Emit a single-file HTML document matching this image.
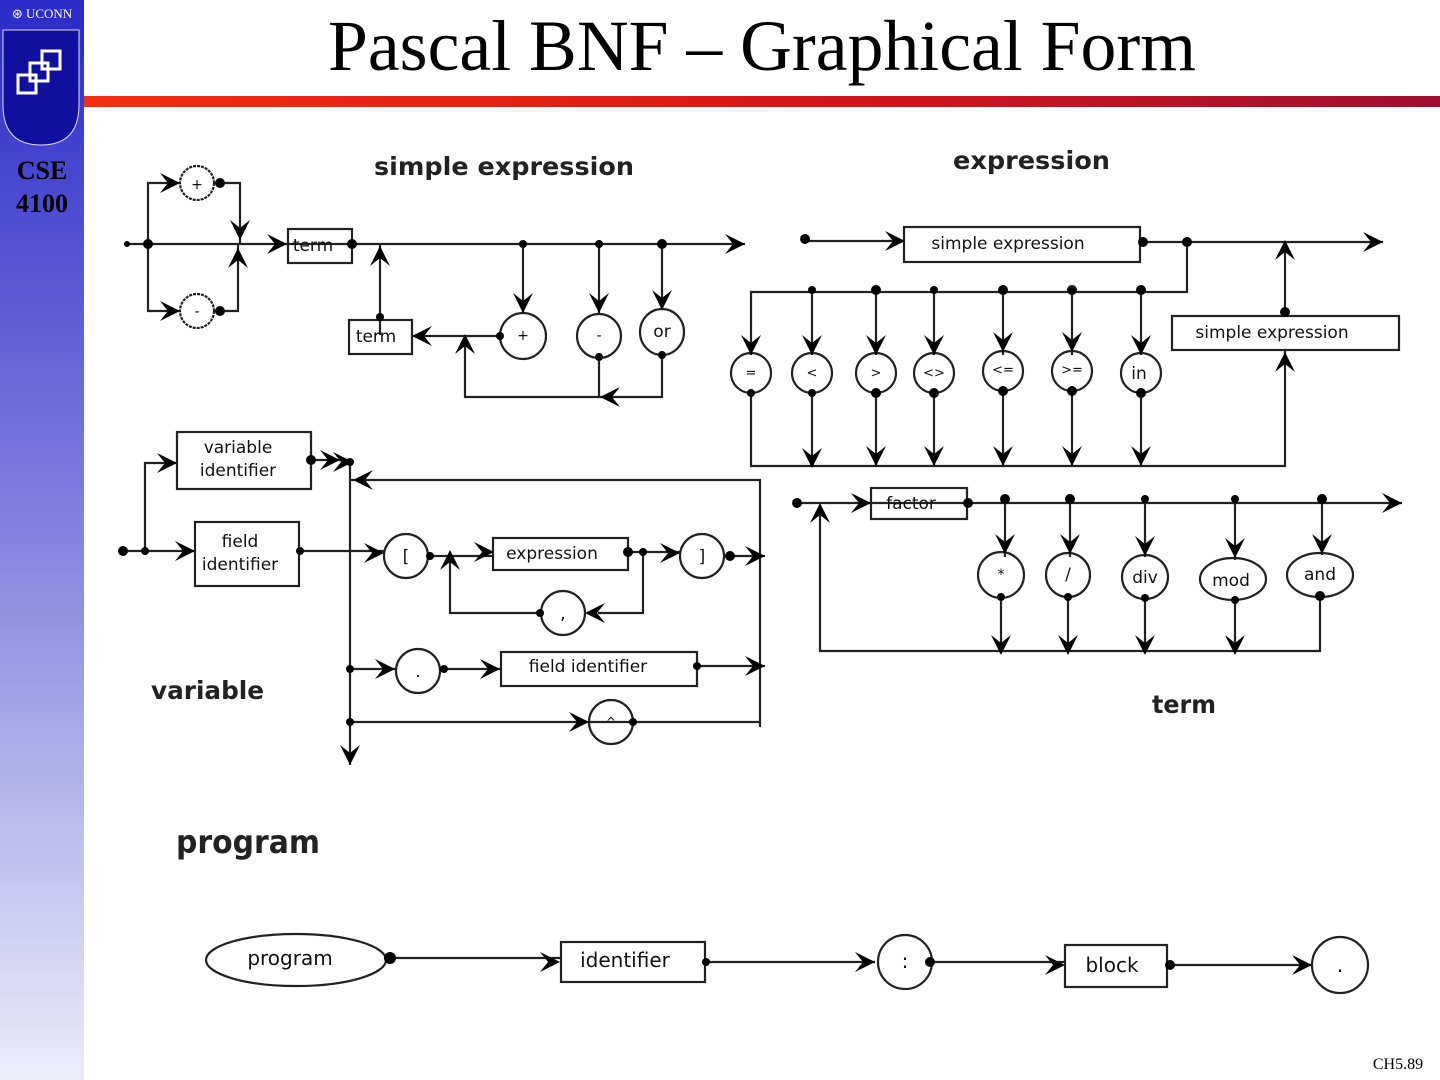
<!DOCTYPE html>
<html><head><meta charset="utf-8"><style>
html,body{margin:0;padding:0;width:1440px;height:1080px;overflow:hidden;background:#fff}
</style></head><body>
<svg width="1440" height="1080" viewBox="0 0 1440 1080" xmlns="http://www.w3.org/2000/svg" font-family="DejaVu Sans, Liberation Sans, sans-serif">
<defs>
<linearGradient id="sb" x1="0" y1="0" x2="0" y2="1">
<stop offset="0" stop-color="#2a2ac8"/><stop offset="0.5" stop-color="#8484e0"/><stop offset="1" stop-color="#ececf8"/></linearGradient>
<linearGradient id="rb" x1="0" y1="0" x2="1" y2="0">
<stop offset="0" stop-color="#f03010"/><stop offset="0.5" stop-color="#d81818"/><stop offset="1" stop-color="#a01030"/></linearGradient>
<polygon id="ar" points="-20,-10 0,0 -20,10 -12,0" fill="#000"/>
</defs>
<rect x="0" y="0" width="84" height="1080" fill="url(#sb)"/>
<text x="42" y="18" font-family="Liberation Serif,serif" font-size="13" fill="#fff" text-anchor="middle">⊛ UCONN</text>
<path d="M3,30 H79 V105 Q79,145 41,145 Q3,145 3,105 Z" fill="#1010a0" stroke="#dde" stroke-width="1"/>
<g fill="none" stroke="#fff" stroke-width="3"><rect x="18" y="75" width="18" height="18"/><rect x="30" y="63" width="18" height="18"/><rect x="42" y="51" width="18" height="18"/></g>
<text x="42" y="179" font-family="Liberation Serif,serif" font-weight="bold" font-size="26" text-anchor="middle">CSE</text>
<text x="42" y="212" font-family="Liberation Serif,serif" font-weight="bold" font-size="26" text-anchor="middle">4100</text>
<rect x="84" y="96" width="1356" height="11" fill="url(#rb)"/>
<text x="762" y="70" font-family="Liberation Serif,serif" font-size="72" text-anchor="middle" textLength="868" lengthAdjust="spacingAndGlyphs">Pascal BNF – Graphical Form</text>
<text x="1398" y="1069" font-family="Liberation Serif,serif" font-size="16" text-anchor="middle">CH5.89</text>

<g font-weight="bold" font-size="25" fill="#222">
<text x="374" y="175" textLength="260" lengthAdjust="spacingAndGlyphs">simple expression</text>
<text x="953" y="169" textLength="157" lengthAdjust="spacingAndGlyphs">expression</text>
<text x="151" y="699" textLength="113" lengthAdjust="spacingAndGlyphs">variable</text>
<text x="1152" y="713" textLength="64" lengthAdjust="spacingAndGlyphs">term</text>
<text x="176" y="853" font-size="32" textLength="144" lengthAdjust="spacingAndGlyphs">program</text>
</g>

<g fill="none" stroke="#222" stroke-width="2.2">
<path d="M127,244 H745 M148,244 V183 H180 M220,183 H240 V244 M148,244 V311 H180 M220,311 H238 V244"/>
<rect x="288" y="229" width="64" height="34"/>
<rect x="349" y="320" width="63" height="34"/>
<path d="M380,335 V244 M523,244 V313 M599,244 V313 M662,244 V310 M500,336 H412 M599,357 V397 M662,355 V397 H465 V336"/>
<circle cx="197" cy="183" r="17" stroke-dasharray="3 1"/>
<circle cx="197" cy="311" r="17" stroke-dasharray="3 1"/>
<circle cx="523" cy="336" r="23"/>
<circle cx="599" cy="336" r="22"/>
<ellipse cx="662" cy="332" rx="22" ry="23"/>
<path d="M805,241 H905 M1143,242 H1383 M1187,242 V292 H751 V355 M812,290 V355 M876,290 V355 M934,290 V355 M1003,290 V355 M1072,290 V355 M1141,290 V355"/>
<rect x="904" y="227" width="236" height="35"/>
<rect x="1172" y="316" width="227" height="34"/>
<path d="M751,393 V466 H1285 V350 M812,393 V466 M876,393 V466 M934,393 V466 M1003,393 V466 M1072,393 V466 M1141,393 V466 M1285,312 V242"/>
<circle cx="751" cy="373" r="20"/><circle cx="812" cy="373" r="20"/><circle cx="876" cy="373" r="20"/><circle cx="934" cy="373" r="20"/><circle cx="1003" cy="371" r="20"/><circle cx="1072" cy="371" r="20"/><circle cx="1141" cy="373" r="20"/>
<path d="M797,503 H1402 M1005,499 V557 M1070,499 V557 M1145,499 V557 M1235,499 V560 M1322,499 V555 M1001,597 V651 M1068,597 V651 M1145,597 V651 M1235,600 V651 M1320,595 V651 H820 V505"/>
<rect x="871" y="488" width="96" height="31"/>
<circle cx="1001" cy="575" r="23"/><circle cx="1068" cy="575" r="22"/><ellipse cx="1145" cy="577" rx="23" ry="22"/><ellipse cx="1233" cy="579" rx="33" ry="21"/><ellipse cx="1320" cy="575" rx="33" ry="22"/>
<rect x="177" y="432" width="134" height="57"/>
<rect x="195" y="522" width="104" height="64"/>
<path d="M123,551 H195 M145,551 V463 H177 M311,460 H350 M350,460 V765 M300,551 H384 M350,480 H760 V727 M430,556 H494 M628,552 H680 M730,556 H765 M643,552 V613 H598 M540,613 H450 V556 M350,669 H395 M444,669 H500 M697,666 H765 M350,722 H760"/>
<circle cx="406" cy="556" r="22"/><circle cx="702" cy="556" r="22"/><circle cx="563" cy="613" r="22"/><circle cx="418" cy="671" r="22"/><circle cx="611" cy="722" r="22"/>
<rect x="493" y="538" width="135" height="32"/>
<rect x="501" y="652" width="196" height="34"/>
<path d="M390,958 H560 M706,962 H875 M930,962 H1065 M1170,965 H1312"/>
<ellipse cx="296" cy="960" rx="90" ry="26"/>
<rect x="561" y="942" width="144" height="40"/>
<circle cx="905" cy="962" r="27"/>
<rect x="1065" y="945" width="102" height="42"/>
<circle cx="1340" cy="965" r="28"/>
</g>

<g font-size="17" fill="#111" text-anchor="middle">
<text x="197" y="189" font-size="14">+</text><text x="197" y="316" font-size="14">-</text>
<text x="313" y="251">term</text><text x="376" y="342">term</text>
<text x="523" y="340" font-size="14">+</text><text x="599" y="340" font-size="14">-</text><text x="662" y="337">or</text>
<text x="1008" y="249">simple expression</text><text x="1272" y="338">simple expression</text>
<g font-size="13"><text x="751" y="377">=</text><text x="812" y="377">&lt;</text><text x="876" y="377">&gt;</text><text x="934" y="377">&lt;&gt;</text><text x="1003" y="374">&lt;=</text><text x="1072" y="374">&gt;=</text></g>
<text x="1139" y="379">in</text>
<text x="911" y="509">factor</text>
<text x="1001" y="579" font-size="14">*</text><text x="1068" y="580">/</text><text x="1145" y="583">div</text><text x="1231" y="586">mod</text><text x="1320" y="580">and</text>
<text x="238" y="453">variable</text><text x="238" y="476">identifier</text>
<text x="240" y="547">field</text><text x="240" y="570">identifier</text>
<text x="406" y="562">[</text><text x="702" y="562">]</text><text x="552" y="559">expression</text>
<text x="563" y="619">,</text><text x="418" y="677">.</text><text x="588" y="672">field identifier</text><text x="611" y="726" font-size="12">^</text>
<text x="290" y="965" font-size="20">program</text><text x="625" y="967" font-size="20">identifier</text>
<text x="905" y="968" font-size="20">:</text><text x="1112" y="972" font-size="20">block</text><text x="1340" y="972" font-size="20">.</text>
</g>

<g fill="#000">
<circle cx="127" cy="244" r="3"/><circle cx="148" cy="244" r="5"/><circle cx="220" cy="183" r="5"/><circle cx="220" cy="311" r="5"/><circle cx="352" cy="244" r="5"/><circle cx="380" cy="317" r="4"/><circle cx="523" cy="244" r="4"/><circle cx="599" cy="244" r="4"/><circle cx="662" cy="244" r="5"/><circle cx="599" cy="357" r="4"/><circle cx="662" cy="355" r="4"/><circle cx="500" cy="336" r="4"/>
<circle cx="805" cy="239" r="5"/><circle cx="1143" cy="242" r="5"/><circle cx="1187" cy="242" r="5"/><circle cx="1285" cy="312" r="5"/>
<circle cx="812" cy="290" r="4"/><circle cx="876" cy="290" r="5"/><circle cx="934" cy="290" r="4"/><circle cx="1003" cy="290" r="5"/><circle cx="1072" cy="290" r="5"/><circle cx="1141" cy="290" r="5"/>
<circle cx="751" cy="393" r="4"/><circle cx="812" cy="393" r="4"/><circle cx="876" cy="393" r="5"/><circle cx="934" cy="393" r="5"/><circle cx="1003" cy="391" r="5"/><circle cx="1072" cy="391" r="5"/><circle cx="1141" cy="393" r="5"/>
<circle cx="797" cy="503" r="5"/><circle cx="968" cy="503" r="5"/><circle cx="1005" cy="499" r="5"/><circle cx="1070" cy="499" r="5"/><circle cx="1145" cy="499" r="4"/><circle cx="1235" cy="499" r="4"/><circle cx="1322" cy="499" r="5"/>
<circle cx="1001" cy="597" r="4"/><circle cx="1068" cy="597" r="4"/><circle cx="1145" cy="598" r="4"/><circle cx="1235" cy="600" r="4"/><circle cx="1320" cy="596" r="5"/>
<circle cx="123" cy="551" r="5"/><circle cx="145" cy="551" r="4"/><circle cx="311" cy="460" r="5"/><circle cx="300" cy="551" r="4"/><circle cx="350" cy="462" r="4"/><circle cx="430" cy="556" r="4"/><circle cx="628" cy="552" r="5"/><circle cx="643" cy="552" r="4"/><circle cx="730" cy="556" r="5"/><circle cx="540" cy="613" r="4"/><circle cx="350" cy="669" r="4"/><circle cx="444" cy="669" r="4"/><circle cx="697" cy="666" r="4"/><circle cx="350" cy="722" r="4"/><circle cx="633" cy="722" r="4"/>
<circle cx="390" cy="958" r="6"/><circle cx="706" cy="962" r="4"/><circle cx="930" cy="962" r="5"/><circle cx="1170" cy="965" r="5"/>
</g>

<g>
<use href="#ar" transform="translate(180,183)"/><use href="#ar" transform="translate(180,311)"/>
<use href="#ar" transform="translate(240,240) rotate(90)"/><use href="#ar" transform="translate(238,248) rotate(-90)"/>
<use href="#ar" transform="translate(287,244)"/><use href="#ar" transform="translate(745,244)"/>
<use href="#ar" transform="translate(380,246) rotate(-90)"/>
<use href="#ar" transform="translate(523,313) rotate(90)"/><use href="#ar" transform="translate(599,313) rotate(90)"/><use href="#ar" transform="translate(662,310) rotate(90)"/>
<use href="#ar" transform="translate(412,336) rotate(180)"/><use href="#ar" transform="translate(600,397) rotate(180)"/><use href="#ar" transform="translate(465,334) rotate(-90)"/>
<use href="#ar" transform="translate(905,241)"/><use href="#ar" transform="translate(1383,242)"/>
<use href="#ar" transform="translate(751,355) rotate(90)"/><use href="#ar" transform="translate(812,355) rotate(90)"/><use href="#ar" transform="translate(876,355) rotate(90)"/><use href="#ar" transform="translate(934,355) rotate(90)"/><use href="#ar" transform="translate(1003,352) rotate(90)"/><use href="#ar" transform="translate(1072,352) rotate(90)"/><use href="#ar" transform="translate(1141,355) rotate(90)"/>
<use href="#ar" transform="translate(812,468) rotate(90)"/><use href="#ar" transform="translate(876,466) rotate(90)"/><use href="#ar" transform="translate(934,466) rotate(90)"/><use href="#ar" transform="translate(1003,466) rotate(90)"/><use href="#ar" transform="translate(1072,466) rotate(90)"/><use href="#ar" transform="translate(1141,466) rotate(90)"/>
<use href="#ar" transform="translate(1285,352) rotate(-90)"/><use href="#ar" transform="translate(1285,240) rotate(-90)"/>
<use href="#ar" transform="translate(871,503)"/><use href="#ar" transform="translate(1402,503)"/><use href="#ar" transform="translate(820,503) rotate(-90)"/>
<use href="#ar" transform="translate(1005,554) rotate(90)"/><use href="#ar" transform="translate(1070,554) rotate(90)"/><use href="#ar" transform="translate(1145,556) rotate(90)"/><use href="#ar" transform="translate(1235,558) rotate(90)"/><use href="#ar" transform="translate(1322,554) rotate(90)"/>
<use href="#ar" transform="translate(1001,655) rotate(90)"/><use href="#ar" transform="translate(1068,655) rotate(90)"/><use href="#ar" transform="translate(1145,655) rotate(90)"/><use href="#ar" transform="translate(1235,655) rotate(90)"/>
<use href="#ar" transform="translate(177,463)"/><use href="#ar" transform="translate(195,551)"/>
<use href="#ar" transform="translate(340,460)"/><use href="#ar" transform="translate(353,462)"/>
<use href="#ar" transform="translate(353,480) rotate(180)"/><use href="#ar" transform="translate(350,765) rotate(90)"/>
<use href="#ar" transform="translate(384,553)"/><use href="#ar" transform="translate(494,552)"/><use href="#ar" transform="translate(680,553)"/><use href="#ar" transform="translate(765,556)"/>
<use href="#ar" transform="translate(585,613) rotate(180)"/><use href="#ar" transform="translate(450,550) rotate(-90)"/>
<use href="#ar" transform="translate(395,669)"/><use href="#ar" transform="translate(500,669)"/><use href="#ar" transform="translate(765,666)"/><use href="#ar" transform="translate(589,722)"/>
<use href="#ar" transform="translate(560,962)"/><use href="#ar" transform="translate(875,962)"/><use href="#ar" transform="translate(1065,965)"/><use href="#ar" transform="translate(1312,965)"/>
</g>
</svg>
</body></html>
